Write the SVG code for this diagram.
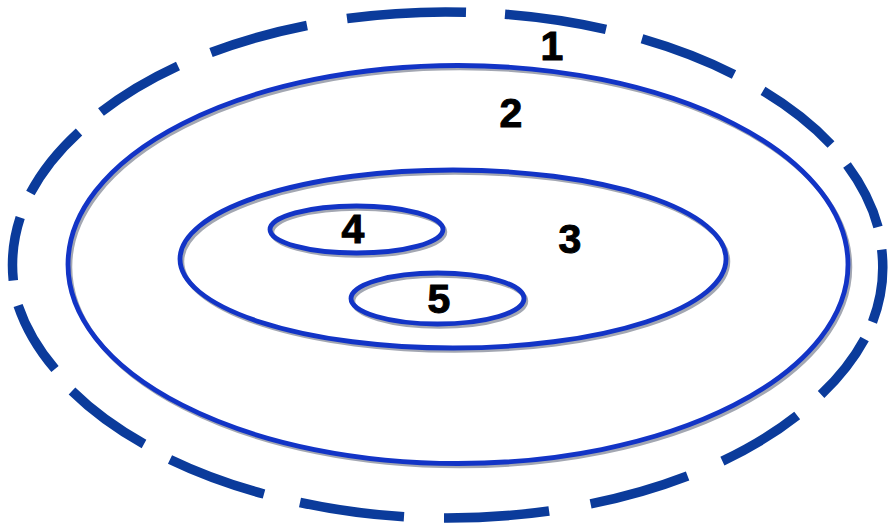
<svg xmlns="http://www.w3.org/2000/svg" width="888" height="525" viewBox="0 0 888 525">
<style>
.dash{fill:none;stroke:#0b3b9b;stroke-width:9.5;stroke-linecap:butt}
.ring{fill:none;stroke:#1234c6;stroke-width:4.8}
.shadow{fill:none;stroke:#a3a7b2;stroke-width:4.5}
.lbl{font-family:"Liberation Sans",Arial,sans-serif;font-weight:bold;font-size:41px;fill:#000;stroke:#000;stroke-width:1;text-anchor:middle}
</style>
<rect width="888" height="525" fill="#fff"/>
<g id="node1">
<path class="dash" d="M881.7 249.6 A435 253 0 0 1 872.5 322"/>
<path class="dash" d="M864.6 338.9 A435 253 0 0 1 821.1 394.5"/>
<path class="dash" d="M797.2 415.5 A435 253 0 0 1 722.4 461.1"/>
<path class="dash" d="M687.6 476.0 A435 253 0 0 1 590.6 503.9"/>
<path class="dash" d="M549.1 511.0 A435 253 0 0 1 444 518.0"/>
<path class="dash" d="M404 516.8 A435 253 0 0 1 300 502.5"/>
<path class="dash" d="M264 494 A435 253 0 0 1 170 459.5"/>
<path class="dash" d="M144 444 A435 253 0 0 1 72 391"/>
<path class="dash" d="M55 369 A435 253 0 0 1 18.1 305.4"/>
<path class="dash" d="M13.3 280.4 A435 253 0 0 1 20.2 217.6"/>
<path class="dash" d="M30.4 193.1 A435 253 0 0 1 79 132"/>
<path class="dash" d="M101 112 A435 253 0 0 1 178 66"/>
<path class="dash" d="M211 52.5 A435 253 0 0 1 307 25.5"/>
<path class="dash" d="M347 18.5 A435 253 0 0 1 466 12.2"/>
<path class="dash" d="M505 14.2 A435 253 0 0 1 606 29.3"/>
<path class="dash" d="M642 38.8 A435 253 0 0 1 734 74.5"/>
<path class="dash" d="M763.0 90.9 A435 253 0 0 1 831 144.5"/>
<path class="dash" d="M847 165 A435 253 0 0 1 878 227"/>
<text class="lbl" x="552" y="60">1</text>
</g>
<g id="node2">
<ellipse class="shadow" cx="460" cy="267" rx="390" ry="199"/>
<ellipse class="ring" cx="458" cy="264.5" rx="390" ry="199"/>
<text class="lbl" x="511" y="127">2</text>
</g>
<g id="node3">
<ellipse class="shadow" cx="455" cy="261.5" rx="273" ry="89"/>
<ellipse class="ring" cx="453" cy="259" rx="273" ry="89"/>
<text class="lbl" x="570" y="253">3</text>
</g>
<g id="node4">
<ellipse class="shadow" cx="358.5" cy="232" rx="86.5" ry="23.5"/>
<ellipse class="ring" cx="356.5" cy="229.5" rx="86.5" ry="23.5"/>
<text class="lbl" x="353" y="243">4</text>
</g>
<g id="node5">
<ellipse class="shadow" cx="439.5" cy="301" rx="86.5" ry="25.5"/>
<ellipse class="ring" cx="437.5" cy="298.5" rx="86.5" ry="25.5"/>
<text class="lbl" x="439" y="313">5</text>
</g>
</svg>
